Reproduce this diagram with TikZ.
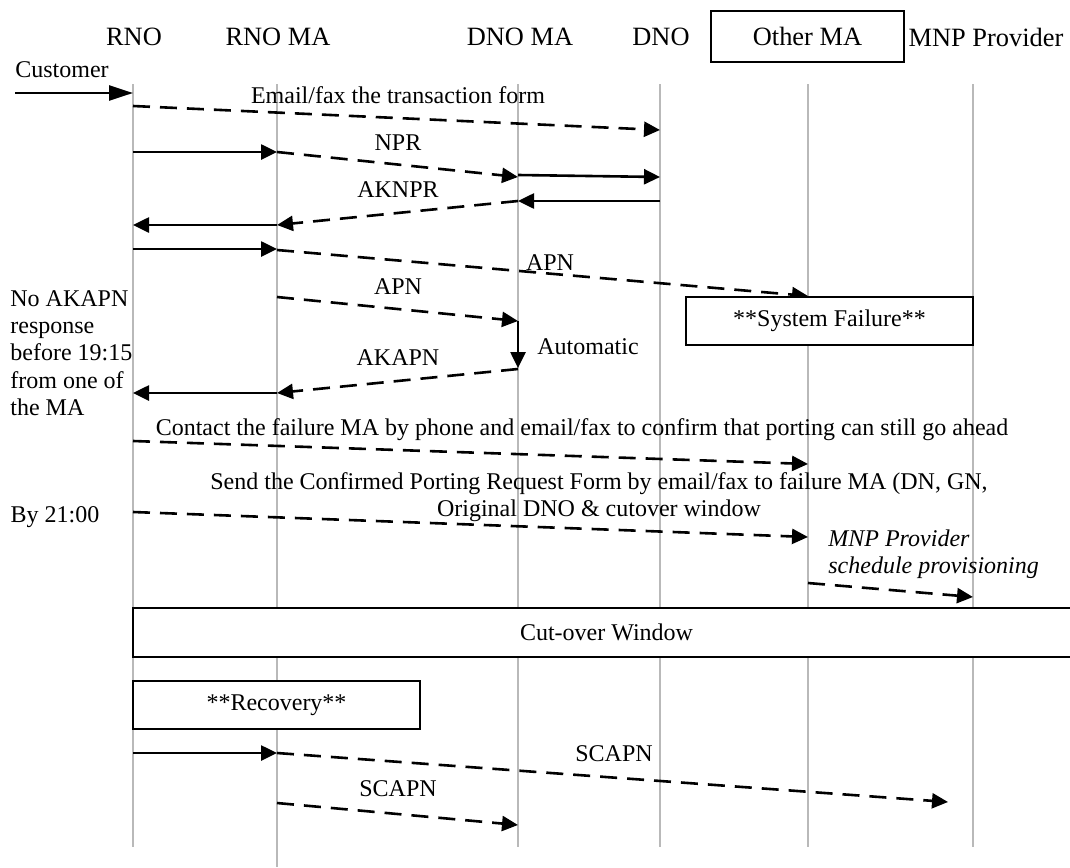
\documentclass[tikz,border=0pt]{standalone}
\usepackage{fontspec}
\setmainfont{Liberation Serif}
\usetikzlibrary{arrows.meta}

\begin{document}
\begin{tikzpicture}[x=0.5pt, y=-0.5pt,
    every node/.style={font=\fontsize{12}{13.6}\selectfont, inner sep=0pt},
    acteur/.style={font=\fontsize{13.2}{15}\selectfont},
    vie/.style={gray!55, line width=1.1pt},
    plein/.style={line width=1.3pt, -{Triangle[length=8pt, width=7.5pt]}},
    tiret/.style={plein, dash pattern=on 8.5pt off 5pt},
    boite/.style={draw, fill=white, line width=0.7pt}]
    \useasboundingbox (0,0) rectangle (1070,867);

    % Lignes de vie
    \foreach \n/\x in {rno/133, rnoma/277, dnoma/518, dno/660, oma/808, mnp/973} {
        \coordinate (\n) at (\x,84);
        \draw[vie] (\n) -- ++(0,763);
    }
    \draw[vie] (rnoma) -- ++(0,783);

    % Acteurs
    \node[acteur] (t-rno) at (134,37) {RNO};
    \node[acteur] (t-rnoma) at (278,37) {RNO MA};
    \node[acteur] (t-dnoma) at (520,37) {DNO MA};
    \node[acteur] (t-dno) at (661,37) {DNO};
    \node[acteur, draw, line width=1pt, minimum width=96.5pt, minimum height=25.5pt] (t-oma) at (807.5,36.5) {Other MA};
    \node[acteur] (t-mnp) at (986,37) {MNP Provider};

    % Client
    \coordinate (cust) at (15,93);
    \node (custlbl) at (62,70) {Customer};
    \draw[line width=1.3pt, -{Triangle[length=12pt, width=7.5pt]}] (cust) -- (rno |- cust);

    % Formulaire
    \draw[tiret] (rno |- 0,106) -- (dno |- 0,130);
    \node (mail) at (398,95) {Email/fax the transaction form};

    % NPR
    \draw[plein] (rno |- 0,152) -- (rnoma |- 0,152);
    \draw[tiret] (rnoma |- 0,152) -- (dnoma |- 0,177);
    \node (npr) at (398,143) {NPR};
    \draw[plein] (dnoma |- 0,175) -- (dno |- 0,177);

    % AKNPR
    \draw[plein] (dno |- 0,201) -- (dnoma |- 0,201);
    \draw[tiret] (dnoma |- 0,201) -- (rnoma |- 0,225);
    \node (aknpr) at (398,190) {AKNPR};
    \draw[plein] (rnoma |- 0,225) -- (rno |- 0,225);

    % APN
    \draw[plein] (rno |- 0,249) -- (rnoma |- 0,249);
    \draw[tiret] (rnoma |- 0,250) -- (oma |- 0,296);
    \node (apn1) at (550,263) {APN};
    \draw[tiret] (rnoma |- 0,297) -- (dnoma |- 0,321);
    \node (apn2) at (398,287) {APN};
    \draw[plein] (dnoma |- 0,321) -- (dnoma |- 0,368);
    \node (auto) at (588,347) {Automatic};

    % AKAPN
    \draw[tiret] (dnoma |- 0,369) -- (rnoma |- 0,393);
    \node (akapn) at (398,358) {AKAPN};
    \draw[plein] (rnoma |- 0,393) -- (rno |- 0,393);
    \node[align=left, anchor=west] (noak) at (10,353) {No AKAPN\\response\\before 19:15\\from one of\\the MA};

    % Panne
    \node[boite, minimum width=143.5pt, minimum height=24pt] (panne) at (829.5,321) {**System Failure**};

    % Contact et formulaire confirme
    \draw[tiret] (rno |- 0,441) -- (oma |- 0,464);
    \node (contact) at (582,430) {Contact the failure MA by phone and email/fax to confirm that porting can still go ahead};
    \draw[tiret] (rno |- 0,512) -- (oma |- 0,537);
    \node[align=center] (form) at (599,497) {Send the Confirmed Porting Request Form by email/fax to failure MA (DN, GN,\\Original DNO \& cutover window};
    \node (by21) at (55,517) {By 21:00};
    \node[align=left, anchor=west, font=\fontsize{12}{13.6}\selectfont\itshape] (sched) at (828,554) {MNP Provider\\schedule provisioning};
    \draw[tiret] (oma |- 0,583) -- (mnp |- 0,597);

    % Fenetre de bascule
    \node[boite, minimum width=473.5pt, minimum height=24.5pt] (cutover) at (606.5,632.5) {Cut-over Window};
    \node[boite, minimum width=143.5pt, minimum height=24pt] (recov) at (276.5,705) {**Recovery**};

    % SCAPN
    \coordinate (scfin) at (948,802);
    \draw[plein] (rno |- 0,753) -- (rnoma |- 0,753);
    \draw[tiret] (rnoma |- 0,753) -- (scfin);
    \node (scapn1) at (614,754) {SCAPN};
    \draw[tiret] (rnoma |- 0,803) -- (dnoma |- 0,825);
    \node (scapn2) at (398,789) {SCAPN};
\end{tikzpicture}
\end{document}
